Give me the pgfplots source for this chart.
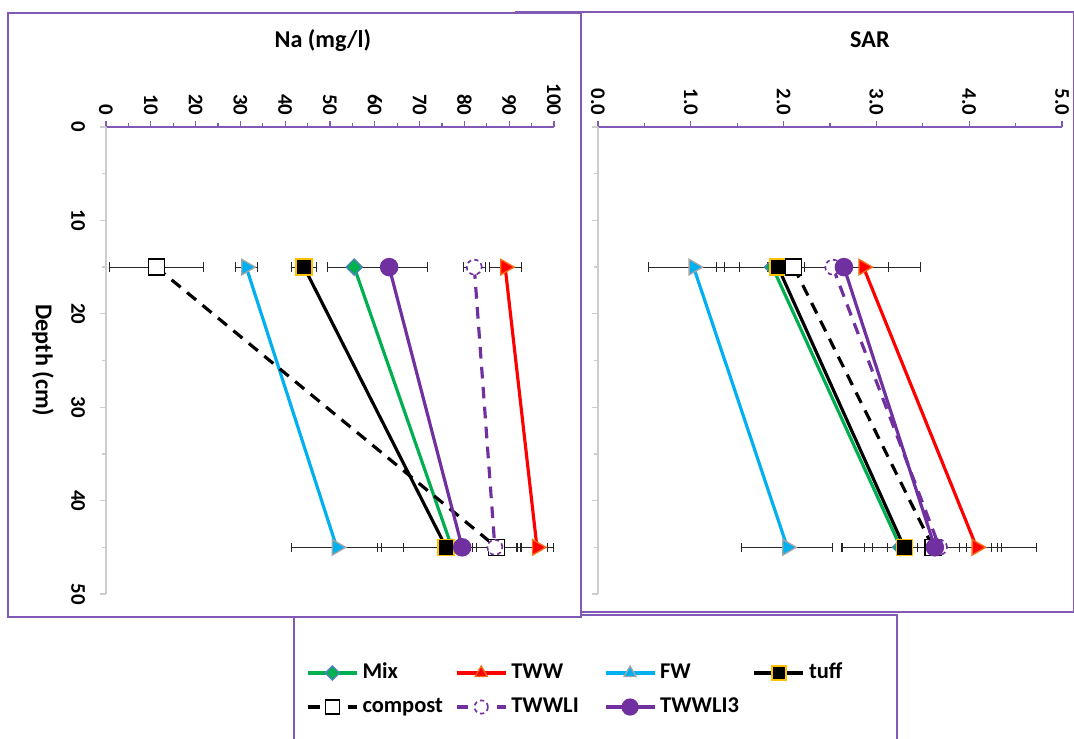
\documentclass[border=0pt]{standalone}
\usepackage{pgfplots}
\pgfplotsset{compat=1.18}
\usepackage{pgfplotstable}
\usepackage{graphicx}
\usepackage{fontspec}
\setmainfont{Carlito}
\definecolor{cMix}{RGB}{0,176,80}
\definecolor{cMixE}{RGB}{79,129,189}
\definecolor{cTWW}{RGB}{255,0,0}
\definecolor{cTWWE}{RGB}{247,110,20}
\definecolor{cFW}{RGB}{0,176,240}
\definecolor{cFWE}{RGB}{166,166,166}
\definecolor{cTuffE}{RGB}{255,192,0}
\definecolor{cPur}{RGB}{112,48,160}
\definecolor{cFrame}{RGB}{128,90,180}
\definecolor{cGrid}{RGB}{205,205,205}

% ---------------- Na (mg/l) ----------------
\pgfplotstableread{
x y e
55.4 15 6.0
77.2 45 15.6
}\naMix
\pgfplotstableread{
x y e
89.1 15 3.6
96.2 45 3.6
}\naTWW
\pgfplotstableread{
x y e
31.3 15 2.5
51.5 45 10.0
}\naFW
\pgfplotstableread{
x y e
44.2 15 2.7
75.9 45 9.4
}\naTuff
\pgfplotstableread{
x y e
11.2 15 10.5
87.2 45 4.5
}\naCompost
\pgfplotstableread{
x y e
82.2 15 2.4
86.8 45 5.0
}\naTWWLI
\pgfplotstableread{
x y e
63.2 15 8.5
79.5 45 19.0
}\naTWWLIthree

% ---------------- SAR ----------------
\pgfplotstableread{
x y e
1.88 15 0.60
3.26 45 0.64
}\sarMix
\pgfplotstableread{
x y e
2.86 15 0.27
4.08 45 0.64
}\sarTWW
\pgfplotstableread{
x y e
1.03 15 0.49
2.04 45 0.49
}\sarFW
\pgfplotstableread{
x y e
1.94 15 0.58
3.30 45 0.67
}\sarTuff
\pgfplotstableread{
x y e
2.11 15 0.11
3.61 45 0.74
}\sarCompost
\pgfplotstableread{
x y e
2.53 15 0.60
3.68 45 0.56
}\sarTWWLI
\pgfplotstableread{
x y e
2.65 15 0.82
3.63 45 0.67
}\sarTWWLIthree

\pgfplotsset{
  errb/.style={error bars/.cd, x dir=both, x explicit,
    error bar style={black!85, line width=0.6pt, solid},
    error mark=|,
    error mark options={black!85, line width=0.6pt, mark size=2.8pt, solid}},
  sMix/.style={color=cMix, line width=1.9pt, mark=square*,
    mark options={fill=cMix, draw=cMixE, line width=0.8pt, rotate=45, mark size=3.4pt, solid}},
  sTWW/.style={color=cTWW, line width=1.9pt, mark=triangle*,
    mark options={fill=cTWW, draw=cTWWE, line width=0.8pt, rotate=-90, mark size=5.4pt, solid}},
  sFW/.style={color=cFW, line width=1.9pt, mark=triangle*,
    mark options={fill=cFW, draw=cFWE, line width=0.8pt, rotate=-90, mark size=5.4pt, solid}},
  sTuff/.style={color=black, line width=1.9pt, mark=square*,
    mark options={fill=black, draw=cTuffE, line width=0.9pt, mark size=4.8pt, solid}},
  sCompost/.style={color=black, line width=1.9pt, dash pattern=on 7pt off 5pt, mark=square*,
    mark options={fill=white, draw=black, line width=0.8pt, mark size=4.8pt, solid}},
  sTWWLI/.style={color=cPur, line width=1.9pt, dash pattern=on 7pt off 5pt, mark=*,
    mark options={fill=white, draw=cPur, line width=1pt, mark size=4.5pt, dash pattern=on 2.5pt off 2pt}},
  sTWWLIthree/.style={color=cPur, line width=1.9pt, mark=*,
    mark options={fill=cPur, draw=cPur, mark size=4.6pt, solid}},
  panel/.style={
    anchor=north west, scale only axis, height=280.2pt,
    ymin=0, ymax=50, y dir=reverse,
    axis x line*=top, axis y line*=left,
    x axis line style={cFrame, line width=0.8pt, -},
    y axis line style={cGrid, line width=0.8pt, -},
    ytick={0,10,...,50}, minor x tick num=1, minor y tick num=1,
    tick align=outside,
    major tick length=3.6pt, minor tick length=2.6pt,
    x tick style={cFrame, line width=0.8pt},
    y tick style={cGrid, line width=0.8pt},
    every tick label/.append style={font=\fontsize{12.5}{15}\selectfont\bfseries},
    xticklabel style={rotate=-90, anchor=east},
    yticklabel style={anchor=east, xshift=-5.4pt},
    /pgf/number format/assume math mode=true,
    label style={font=\fontsize{14.5}{17}\selectfont\bfseries},
  },
}

\begin{document}
\begin{tikzpicture}[font=\fontsize{12.5}{15}\selectfont\bfseries]
\path[use as bounding box] (0,0) rectangle (644.4pt,-442.8pt);
\draw[cFrame, line width=1.2pt] (309.6pt,-7.2pt) rectangle (644.4pt,-367.2pt);
\draw[cFrame, line width=1.2pt] (176.4pt,-450pt) -- (176.4pt,-369pt) -- (538.2pt,-369pt) -- (538.2pt,-450pt);
\filldraw[fill=white, draw=cFrame, line width=1.2pt] (4.8pt,-7.8pt) rectangle (348.6pt,-370.2pt);

\begin{axis}[panel,
  at={(63.6pt,-76.2pt)}, width=268.8pt,
  xmin=0, xmax=100, xtick={0,10,...,100},
  yticklabel={\rotatebox{-90}{\pgfmathprintnumber{\tick}}},
  xlabel={Na (mg/l)}, ylabel={Depth (cm)},
  xlabel style={at={(axis description cs:0.484,1.186)}, anchor=center},
  ylabel style={at={(axis description cs:-0.141,0.5)}, anchor=center, rotate=180},
]
\addplot[sMix, errb] table[x=x, y=y, x error=e] {\naMix};
\addplot[sTWW, errb] table[x=x, y=y, x error=e] {\naTWW};
\addplot[sFW, errb] table[x=x, y=y, x error=e] {\naFW};
\addplot[sTuff, errb] table[x=x, y=y, x error=e] {\naTuff};
\addplot[sCompost, errb] table[x=x, y=y, x error=e] {\naCompost};
\addplot[sTWWLI, errb] table[x=x, y=y, x error=e] {\naTWWLI};
\addplot[sTWWLIthree, errb] table[x=x, y=y, x error=e] {\naTWWLIthree};
\end{axis}

\begin{axis}[panel,
  at={(358.8pt,-76.2pt)}, width=278.4pt,
  xmin=0, xmax=5, xtick={0,1,...,5},
  xticklabel={\pgfmathprintnumber[fixed, fixed zerofill, precision=1]{\tick}},
  yticklabel={\relax},
  xlabel={SAR},
  xlabel style={at={(axis description cs:0.586,1.186)}, anchor=center},
]
\addplot[sMix, errb] table[x=x, y=y, x error=e] {\sarMix};
\addplot[sTWW, errb] table[x=x, y=y, x error=e] {\sarTWW};
\addplot[sFW, errb] table[x=x, y=y, x error=e] {\sarFW};
\addplot[sTuff, errb] table[x=x, y=y, x error=e] {\sarTuff};
\addplot[sCompost, errb] table[x=x, y=y, x error=e] {\sarCompost};
\addplot[sTWWLI, errb] table[x=x, y=y, x error=e] {\sarTWWLI};
\addplot[sTWWLIthree, errb] table[x=x, y=y, x error=e] {\sarTWWLIthree};
\end{axis}

\begin{axis}[at={(183.6pt,-414pt)}, anchor=south west, scale only axis,
  width=5pt, height=5pt, hide axis, xmin=0, xmax=1, ymin=0, ymax=1,
  legend columns=4,
  legend style={at={(0,0)}, anchor=west, draw=none, fill=none, inner sep=0pt,
    row sep=7.4pt, column sep=0pt,
    nodes={inner sep=0pt, text height=10pt, text depth=3pt,
      font=\fontsize{13.5}{16}\selectfont\bfseries}},
  legend image code/.code={\draw[mark repeat=2, mark phase=2, #1]
    plot coordinates {(0pt,0pt) (14.7pt,0pt) (29.4pt,0pt)};},
]
\addlegendimage{color=cMix, line width=1.9pt, mark=square*,
    mark options={fill=cMix, draw=cMixE, line width=0.8pt, rotate=45, mark size=3pt, solid}}
\addlegendentry{\hspace{2.4pt}\makebox[55.6pt][l]{Mix}}
\addlegendimage{color=cTWW, line width=1.9pt, mark=triangle*,
    mark options={fill=cTWW, draw=cTWWE, line width=0.8pt, mark size=4.2pt, solid}}
\addlegendentry{\hspace{2.4pt}\makebox[55.6pt][l]{TWW}}
\addlegendimage{color=cFW, line width=1.9pt, mark=triangle*,
    mark options={fill=cFW, draw=cFWE, line width=0.8pt, mark size=4.2pt, solid}}
\addlegendentry{\hspace{2.4pt}\makebox[55.6pt][l]{FW}}
\addlegendimage{color=black, line width=1.9pt, mark=square*,
    mark options={fill=black, draw=cTuffE, line width=0.9pt, mark size=4.2pt, solid}}
\addlegendentry{\hspace{2.4pt}tuff}
\addlegendimage{color=black, line width=1.9pt, dash pattern=on 7pt off 5pt, mark=square*,
    mark options={fill=white, draw=black, line width=0.8pt, mark size=4.2pt, solid}}
\addlegendentry{\hspace{2.4pt}\makebox[55.6pt][l]{compost}}
\addlegendimage{color=cPur, line width=1.9pt, dash pattern=on 7pt off 5pt, mark=*,
    mark options={fill=white, draw=cPur, line width=1pt, mark size=4pt, dash pattern=on 2.5pt off 2pt}}
\addlegendentry{\hspace{2.4pt}\makebox[55.6pt][l]{TWWLI}}
\addlegendimage{color=cPur, line width=1.9pt, mark=*,
    mark options={fill=cPur, draw=cPur, mark size=4.2pt, solid}}
\addlegendentry{\hspace{2.4pt}\makebox[55.6pt][l]{TWWLI3}}
\end{axis}
\end{tikzpicture}
\end{document}
